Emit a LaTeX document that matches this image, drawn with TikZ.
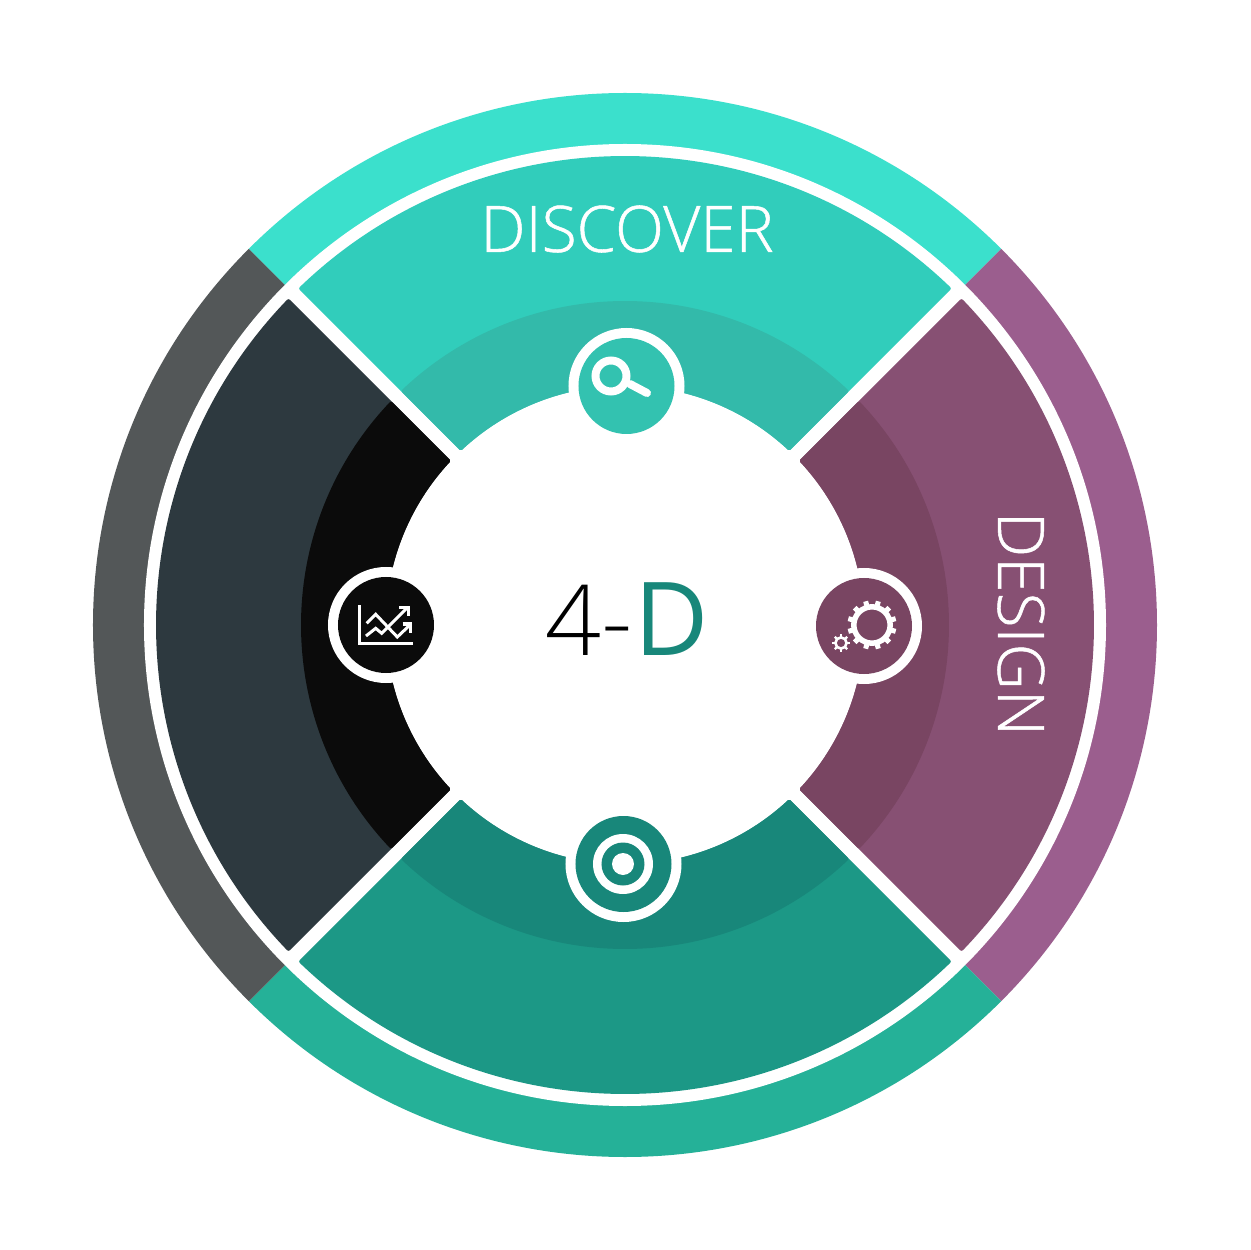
\documentclass[tikz,border=0pt]{standalone}
\usepackage{fontspec}
\newfontfamily\lightfont[FakeBold=0.8]{Open Sans Light}
\newfontfamily\thinfont{Open Sans Light}
\newfontfamily\regfont{Open Sans}
\definecolor{ringA}{HTML}{3BE0CC}\definecolor{secA}{HTML}{31CDBB}\definecolor{inA}{HTML}{33BAAA}\definecolor{discA}{HTML}{33C2B0}
\definecolor{ringB}{HTML}{9B5E8E}\definecolor{secB}{HTML}{875073}\definecolor{inB}{HTML}{794562}
\definecolor{ringC}{HTML}{25B198}\definecolor{secC}{HTML}{1C9886}\definecolor{inC}{HTML}{18877A}
\definecolor{ringD}{HTML}{535758}\definecolor{secD}{HTML}{2D393F}\definecolor{inD}{HTML}{0B0B0B}
\newcommand{\ringpart}[2]{\fill[#2,rotate=#1] (0,0) -- (45:532) arc[start angle=45,end angle=135,radius=532] -- cycle;}
\newcommand{\sectorpart}[4]{%
  \pgfmathsetmacro{\da}{asin(9/#3)}\pgfmathsetmacro{\db}{asin(9/#2)}%
  \pgfmathsetmacro{\aa}{45+\da}\pgfmathsetmacro{\ab}{135-\da}%
  \pgfmathsetmacro{\ac}{135-\db}\pgfmathsetmacro{\ad}{45+\db}%
  \filldraw[fill=#4,draw=#4,line width=4pt,line join=round,rotate=#1]
    (\aa:#3) arc[start angle=\aa,end angle=\ab,radius=#3] -- (\ac:#2)
    arc[start angle=\ac,end angle=\ad,radius=#2] -- cycle;}
\tikzset{
  img/.style={shift={(-625,625)},yscale=-1},
  iconline/.style={white,line width=3pt,line join=miter},
  bigtext/.style={text=white,font=\lightfont\fontsize{64}{64}\selectfont,inner sep=0pt}
}
\begin{document}
\begin{tikzpicture}[x=1pt,y=1pt]
\useasboundingbox (-625,-625) rectangle (625,625);
\fill[white] (-625,-625) rectangle (625,625);
\ringpart{0}{ringA}\ringpart{-90}{ringB}\ringpart{180}{ringC}\ringpart{90}{ringD}
\fill[white] (0,0) circle[radius=481];
\sectorpart{0}{241}{467}{secA}\sectorpart{-90}{241}{467}{secB}\sectorpart{180}{241}{467}{secC}\sectorpart{90}{241}{467}{secD}
\sectorpart{0}{241}{322}{inA}\sectorpart{-90}{241}{322}{inB}\sectorpart{180}{241}{322}{inC}\sectorpart{90}{241}{322}{inD}
\begin{scope}[img]
\fill[white] (625,625) circle[radius=239];
% icon discs
\fill[white] (626.5,386) circle[radius=58];
\fill[white] (864,626) circle[radius=58];
\fill[white] (623.5,864) circle[radius=58];
\fill[white] (386,625) circle[radius=58];
\fill[discA] (626.5,386) circle[radius=48];
\fill[inB] (864,626) circle[radius=48];
\fill[inC] (623.5,864) circle[radius=48];
\fill[inD] (386,625) circle[radius=48];
% magnifier
\draw[white,line width=8pt] (611,376) circle[radius=15.5];
\draw[white,line width=8pt,line cap=round] (630,384) -- (647,393);
% gears
\draw[white,line width=5.5pt] (872,625) circle[radius=18.2];
\foreach \a in {15,45,...,345}{\draw[white,line width=5pt] (872,625) ++(\a:19) -- ++(\a:5.5);}
\draw[white,line width=2.6pt] (841,643) circle[radius=5.6];
\foreach \a in {0,45,...,315}{\draw[white,line width=2.2pt] (841,643) ++(\a:6) -- ++(\a:2.8);}
% target
\fill[white] (623,864) circle[radius=30];
\fill[inC] (623,864) circle[radius=21.5];
\fill[white] (623,864) circle[radius=11];
% chart
\draw[iconline] (360,605.5) -- (360,643) -- (413.5,643);
\draw[iconline] (366.7,623.3) -- (375.7,614.3) -- (397.3,637) -- (411,624);
\draw[iconline] (402.7,624) -- (411,624) -- (411,632.7);
\draw[iconline] (366,636) -- (375.7,628.3) -- (381.7,633.3) -- (407.7,607.3);
\draw[iconline] (399.3,607.3) -- (408.3,607.3) -- (408.3,616);
% texts
\node[bigtext] (discover) at (627,229) {DISCOVER};
\node[bigtext,rotate=-90] (design) at (1021,624) {DESIGN};
\node[inner sep=0pt,anchor=base west,font=\thinfont\fontsize{98}{98}\selectfont] (center) at (545,655) {4-\kern1.5pt\textcolor{inC}{\regfont\fontsize{102}{102}\selectfont D}};
\end{scope}
\end{tikzpicture}
\end{document}
